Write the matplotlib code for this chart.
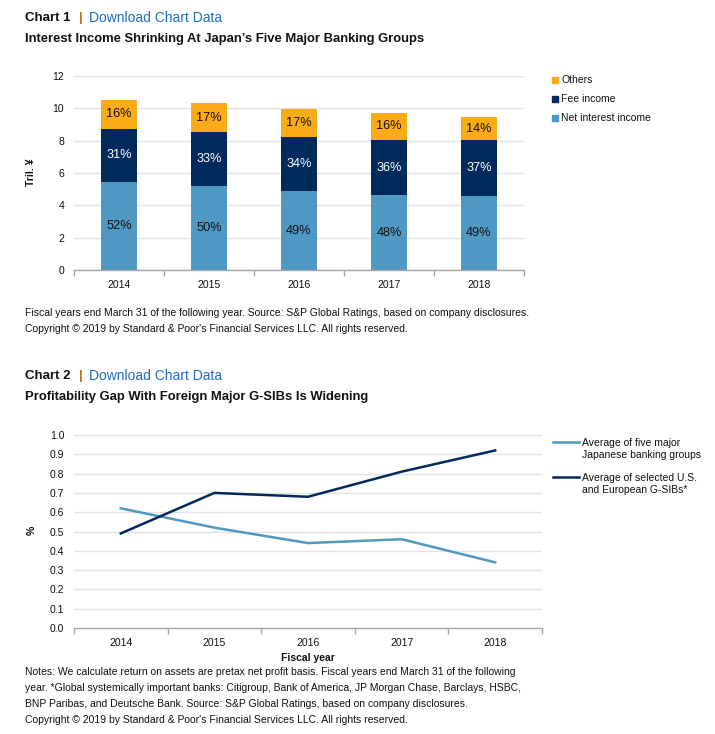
import matplotlib
matplotlib.use("Agg")
import matplotlib.pyplot as plt
from matplotlib.patches import Rectangle
from matplotlib.lines import Line2D
import numpy as np

plt.rcParams['font.family'] = ['Liberation Sans', 'DejaVu Sans']

# ---------------- data ----------------
years = ["2014", "2015", "2016", "2017", "2018"]
net_interest = [5.44, 5.17, 4.86, 4.61, 4.55]
fee_income = [3.31, 3.36, 3.38, 3.46, 3.48]
others = [1.76, 1.80, 1.72, 1.66, 1.41]
nii_pct = ["52%", "50%", "49%", "48%", "49%"]
fee_pct = ["31%", "33%", "34%", "36%", "37%"]
oth_pct = ["16%", "17%", "17%", "16%", "14%"]
bar_series = ["Net interest income", "Fee income", "Others"]

japan_roa = [0.62, 0.52, 0.44, 0.46, 0.34]
gsib_roa = [0.49, 0.70, 0.68, 0.81, 0.92]
line_series = ["Average of five major\nJapanese banking groups",
               "Average of selected U.S.\nand European G-SIBs*"]

# ---------------- style ----------------
C_NII = "#4F98C3"
C_FEE = "#002A5C"
C_OTH = "#FBAB18"
C_GRID = "#E3E3E3"
C_AXIS = "#A6A6A6"
C_BLUE = "#1F6FBF"
C_PIPE = "#B8741A"

W, H = 715, 734
fig = plt.figure(figsize=(W / 100, H / 100), dpi=100)


def rect(l, t, r, b):
    return [l / W, 1 - b / H, (r - l) / W, (b - t) / H]


def fx(x):
    return x / W


def fy(y):
    return 1 - y / H


def header(y_hdr, y_title, num, title):
    fig.text(fx(25), fy(y_hdr), f"Chart {num}", fontsize=9.5, fontweight="bold",
             color="#111111", va="center", ha="left")
    fig.text(fx(79), fy(y_hdr), "|", fontsize=9.5, fontweight="bold",
             color=C_PIPE, va="center", ha="left")
    fig.text(fx(89), fy(y_hdr), "Download Chart Data", fontsize=10,
             color=C_BLUE, va="center", ha="left")
    fig.text(fx(25), fy(y_title), title, fontsize=9.4, fontweight="bold",
             color="#111111", va="center", ha="left")


def style_axes(ax, n):
    for s in ["top", "right", "left"]:
        ax.spines[s].set_visible(False)
    ax.spines["bottom"].set_color(C_AXIS)
    ax.spines["bottom"].set_linewidth(1.0)
    ax.yaxis.grid(True, color=C_GRID, linewidth=1.0)
    ax.set_axisbelow(True)
    ax.tick_params(axis="y", length=0, pad=7, labelsize=7.5, colors="#111111")
    ax.set_xticks(np.arange(n))
    ax.set_xticks(np.arange(n + 1) - 0.5, minor=True)
    ax.tick_params(axis="x", which="major", length=0, pad=7, labelsize=7.5,
                   colors="#111111")
    ax.tick_params(axis="x", which="minor", length=4, direction="out",
                   color=C_AXIS, width=1.0)
    ax.set_xlim(-0.5, n - 0.5)


# ---------------- chart 1 ----------------
header(18, 39, 1, "Interest Income Shrinking At Japan\u2019s Five Major Banking Groups")

ax1 = fig.add_axes(rect(74, 76, 524, 270))
x = np.arange(len(years))
bw = 0.4
b1 = ax1.bar(x, net_interest, bw, color=C_NII, label=bar_series[0])
b2 = ax1.bar(x, fee_income, bw, bottom=net_interest, color=C_FEE, label=bar_series[1])
bot3 = np.array(net_interest) + np.array(fee_income)
b3 = ax1.bar(x, others, bw, bottom=bot3, color=C_OTH, label=bar_series[2])
ax1.bar_label(b1, labels=nii_pct, label_type="center", fontsize=9.2, color="#111111")
ax1.bar_label(b2, labels=fee_pct, label_type="center", fontsize=9.2, color="white")
ax1.bar_label(b3, labels=oth_pct, label_type="center", fontsize=9.2, color="#111111")
ax1.set_ylim(0, 12)
ax1.set_yticks(np.arange(0, 13, 2))
ax1.set_xticklabels(years)
style_axes(ax1, len(years))
fig.text(fx(31), fy(172), "Tril. \u00a5", rotation=90, fontsize=7.5,
         fontweight="bold", ha="center", va="center", color="#111111")

# legend chart 1 (top to bottom: Others, Fee, NII)
leg_items = [(bar_series[2], C_OTH), (bar_series[1], C_FEE), (bar_series[0], C_NII)]
for i, (name, col) in enumerate(leg_items):
    yy = 80 + i * 19
    fig.patches.append(Rectangle((fx(552), fy(yy + 3)), 6 / W, 6 / H,
                                 transform=fig.transFigure, color=col))
    fig.text(fx(561), fy(yy), name, fontsize=7.5, va="center", ha="left",
             color="#111111")

fig.text(fx(25), fy(313),
         "Fiscal years end March 31 of the following year. Source: S&P Global Ratings, "
         "based on company disclosures.", fontsize=7.45, va="center", ha="left",
         color="#111111")
fig.text(fx(25), fy(329),
         "Copyright \u00a9 2019 by Standard & Poor's Financial Services LLC. All rights reserved.",
         fontsize=7.45, va="center", ha="left", color="#111111")

# ---------------- chart 2 ----------------
header(376, 397, 2, "Profitability Gap With Foreign Major G-SIBs Is Widening")

ax2 = fig.add_axes(rect(74, 435, 542, 628))
ax2.plot(x, japan_roa, color=C_NII, linewidth=1.8)
ax2.plot(x, gsib_roa, color=C_FEE, linewidth=1.8)
ax2.set_ylim(0, 1.0)
ax2.set_yticks(np.arange(0, 1.01, 0.1))
ax2.set_yticklabels([f"{v:.1f}" for v in np.arange(0, 1.01, 0.1)])
ax2.set_xticklabels(years)
style_axes(ax2, len(years))
ax2.set_xlabel("Fiscal year", fontsize=7.5, fontweight="bold", labelpad=4,
               color="#111111")
fig.text(fx(32), fy(530), "%", rotation=90, fontsize=7.5, fontweight="bold",
         ha="center", va="center", color="#111111")

for i, (name, col) in enumerate(zip(line_series, [C_NII, C_FEE])):
    yy = 442 + i * 35
    fig.lines.append(Line2D([fx(553), fx(579)], [fy(yy), fy(yy)],
                            transform=fig.transFigure, color=col, linewidth=1.8))
    fig.text(fx(582), fy(yy - 4), name, fontsize=7.5, va="top", ha="left",
             color="#111111", linespacing=1.3)

notes = [
    "Notes: We calculate return on assets are pretax net profit basis. Fiscal years end March 31 of the following",
    "year. *Global systemically important banks: Citigroup, Bank of America, JP Morgan Chase, Barclays, HSBC,",
    "BNP Paribas, and Deutsche Bank. Source: S&P Global Ratings, based on company disclosures.",
    "Copyright \u00a9 2019 by Standard & Poor's Financial Services LLC. All rights reserved.",
]
for i, line in enumerate(notes):
    fig.text(fx(25), fy(672 + i * 16), line, fontsize=7.45, va="center", ha="left",
             color="#111111")

fig.savefig("out.png", dpi=100, facecolor="white")
